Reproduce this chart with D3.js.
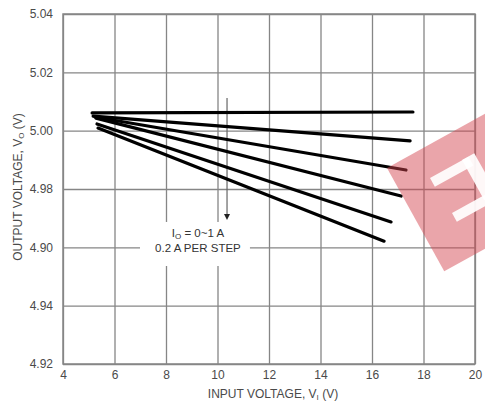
<!DOCTYPE html>
<html>
<head>
<meta charset="utf-8">
<script src="https://cdn.jsdelivr.net/npm/d3@7"></script>
<style>
  html, body { margin: 0; padding: 0; background: #fff; }
  svg { display: block; font-family: "Liberation Sans", Arial, sans-serif; }
</style>
</head>
<body>
<svg id="chart" width="485" height="405"></svg>
<script>
// ---- data ----
const loadCurrents = ["0 A", "0.2 A", "0.4 A", "0.6 A", "0.8 A", "1.0 A"];
const vinStart = [5.13, 5.17, 5.24, 5.28, 5.32, 5.36];
const voStart  = [5.0061, 5.0050, 5.0047, 5.0043, 5.0023, 5.0009];
const vinEnd   = [17.59, 17.48, 17.32, 17.13, 16.74, 16.47];
const voEnd    = [5.0064, 4.9965, 4.9865, 4.9776, 4.9687, 4.9621];

const xTicks = [4, 6, 8, 10, 12, 14, 16, 18, 20];
const yTicks = [4.92, 4.94, 4.96, 4.98, 5.00, 5.02, 5.04];
const yTickLabels = ["4.92", "4.94", "4.90", "4.98", "5.00", "5.02", "5.04"];

const arrowX = 10.37, arrowTop = 5.0112, arrowBottom = 4.9694;
const noteLines = ["I|O| = 0~1 A", "0.2 A PER STEP"];

// ---- layout ----
const margin = { left: 63, top: 14, right: 10, bottom: 41 };
const W = 485, H = 405;
const w = W - margin.left - margin.right;
const h = H - margin.top - margin.bottom;

const svg = d3.select("#chart");
const g = svg.append("g").attr("transform", `translate(${margin.left},${margin.top})`);

const x = d3.scaleLinear().domain([4, 20]).range([0, w]);
const y = d3.scaleLinear().domain([4.92, 5.04]).range([h, 0]);

const gridColor = "#868686";
const textColor = "#4a4a4a";

// x axis with grid
const xAxis = g.append("g").attr("transform", `translate(0,${h})`)
  .call(d3.axisBottom(x).tickValues(xTicks).tickSize(-h).tickPadding(6).tickFormat(d3.format("d")));
xAxis.select(".domain").remove();
xAxis.selectAll("line").attr("stroke", gridColor).attr("stroke-width", 1.3);
xAxis.selectAll("text").attr("fill", textColor).attr("font-size", 12)
  .attr("font-family", "Liberation Sans, Arial, sans-serif");

// y axis with grid
const yAxis = g.append("g")
  .call(d3.axisLeft(y).tickValues(yTicks).tickSize(-w).tickPadding(10)
    .tickFormat((d, i) => yTickLabels[i]));
yAxis.select(".domain").remove();
yAxis.selectAll("line").attr("stroke", gridColor).attr("stroke-width", 1.3);
yAxis.selectAll("text").attr("fill", textColor).attr("font-size", 12)
  .attr("font-family", "Liberation Sans, Arial, sans-serif");

// frame
g.append("rect").attr("x", 0).attr("y", 0).attr("width", w).attr("height", h)
  .attr("fill", "none").attr("stroke", gridColor).attr("stroke-width", 1.5);

// note box (white background covering the grid)
const note = g.append("g");
note.append("rect")
  .attr("x", x(6.99)).attr("y", y(4.9687))
  .attr("width", x(11.26) - x(6.99)).attr("height", y(4.9536) - y(4.9687))
  .attr("fill", "#fff");

// arrow
g.append("line")
  .attr("x1", x(arrowX)).attr("x2", x(arrowX))
  .attr("y1", y(arrowTop)).attr("y2", y(arrowBottom) - 5)
  .attr("stroke", "#666").attr("stroke-width", 1.2);
g.append("path")
  .attr("d", d3.line()([[x(arrowX) - 3, y(arrowBottom) - 6], [x(arrowX) + 3, y(arrowBottom) - 6], [x(arrowX), y(arrowBottom)]]) + "Z")
  .attr("fill", "#222");

// curves
const series = loadCurrents.map((name, i) => ({
  name,
  pts: [[vinStart[i], voStart[i]], [vinEnd[i], voEnd[i]]]
}));
const line = d3.line().x(d => x(d[0])).y(d => y(d[1]));
g.selectAll("path.curve").data(series).enter().append("path")
  .attr("class", "curve")
  .attr("d", d => line(d.pts))
  .attr("fill", "none").attr("stroke", "#000").attr("stroke-width", 3.2)
  .attr("stroke-linecap", "round");

// note text
const noteX = x(9.24);
const t1 = g.append("text").attr("x", noteX).attr("y", y(4.9636))
  .attr("text-anchor", "middle").attr("font-size", 11.5).attr("fill", "#333");
t1.append("tspan").text("I");
t1.append("tspan").attr("font-size", 8).attr("dy", 2).text("O");
t1.append("tspan").attr("dy", -2).text(" = 0~1 A");
g.append("text").attr("x", noteX).attr("y", y(4.9584))
  .attr("text-anchor", "middle").attr("font-size", 11.5).attr("fill", "#333")
  .text(noteLines[1]);

// axis titles
const xt = svg.append("text").attr("x", margin.left + w / 2 + 4).attr("y", 398)
  .attr("text-anchor", "middle").attr("font-size", 12).attr("fill", textColor);
xt.append("tspan").text("INPUT VOLTAGE, V");
xt.append("tspan").attr("font-size", 8).attr("dy", 2).text("I");
xt.append("tspan").attr("dy", -2).text(" (V)");

const yt = svg.append("text")
  .attr("transform", `translate(22,${margin.top + h / 2 - 2}) rotate(-90)`)
  .attr("text-anchor", "middle").attr("font-size", 12).attr("fill", textColor);
yt.append("tspan").text("OUTPUT VOLTAGE, V");
yt.append("tspan").attr("font-size", 8).attr("dy", 2).text("O");
yt.append("tspan").attr("dy", -2).text(" (V)");

// decorative watermark (semi-transparent red tile with white glyph)
const wm = svg.append("g");
const ux = 0.875, uy = -0.485, vx = 0.485, vy = 0.875;
const A = [387, 168], L = 118;
const quad = (o, a, b) => [o, [o[0] + ux * a, o[1] + uy * a],
  [o[0] + ux * a + vx * b, o[1] + uy * a + vy * b], [o[0] + vx * b, o[1] + vy * b]];
wm.append("path").attr("d", d3.line()(quad(A, L, L)) + "Z")
  .attr("fill", "rgb(212,66,78)").attr("fill-opacity", 0.48);
const glyph = [
  quad([430, 178], 44, 10),
  quad([462, 160], 14, 46),
  quad([452, 213], 40, 10)
];
glyph.forEach(q => wm.append("path").attr("d", d3.line()(q) + "Z")
  .attr("fill", "#fff").attr("fill-opacity", 0.92));
</script>
</body>
</html>
